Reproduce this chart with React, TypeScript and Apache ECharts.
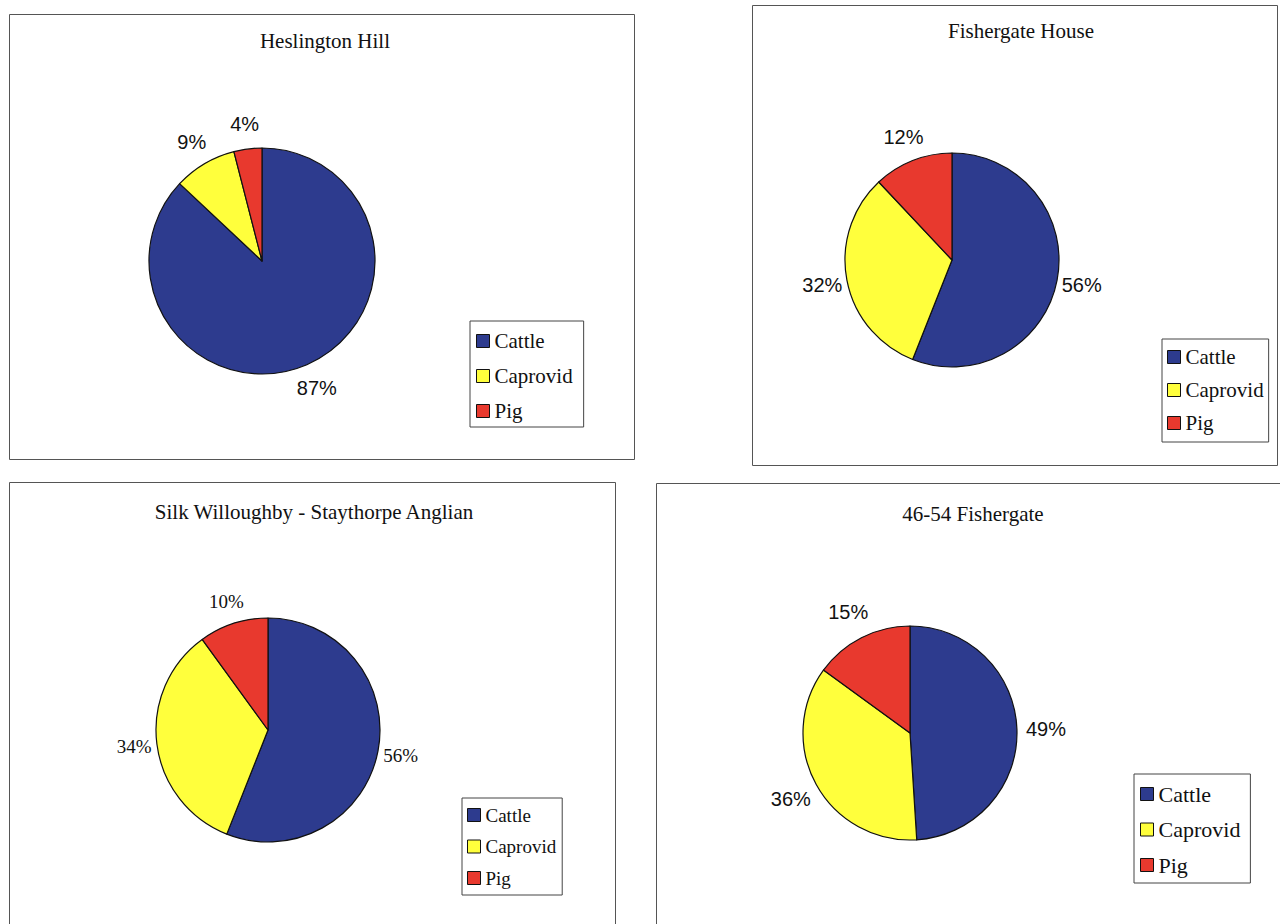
import React, { useEffect, useRef } from "react";
import * as echarts from "echarts";

const categories = ["Cattle", "Caprovid", "Pig"];
const heslingtonHill = [87, 9, 4];
const fishergateHouse = [56, 32, 12];
const silkWilloughby = [56, 34, 10];
const fishergate4654 = [49, 36, 15];
const chartTitles = [
  "Heslington Hill",
  "Fishergate House",
  "Silk Willoughby - Staythorpe Anglian",
  "46-54 Fishergate",
];
const seriesValues = [heslingtonHill, fishergateHouse, silkWilloughby, fishergate4654];

const colors = ["#2d3b8e", "#ffff3c", "#e8392e"];
const SERIF = "'Liberation Serif', 'Times New Roman', serif";
const SANS = "'Liberation Sans', Arial, sans-serif";

const panels = [
  {
    box: [9, 14, 625, 445],
    title: [325, 41],
    center: [262, 261],
    radius: 113,
    labelLen: 25,
    labelFont: SANS,
    labelSize: 20,
    legend: { left: 470, top: 321, fs: 21, gap: 12, pad: [8.5, 11, 4.5, 6] },
  },
  {
    box: [752, 5, 525, 460],
    title: [1021, 31],
    center: [952, 260],
    radius: 107,
    labelLen: 25,
    labelFont: SANS,
    labelSize: 20,
    legend: { left: 1162, top: 339, fs: 21, gap: 10, pad: [6.5, 5, 7.5, 5] },
  },
  {
    box: [9, 482, 606, 460],
    title: [314, 512],
    center: [268, 730],
    radius: 112,
    labelLen: 23,
    labelFont: SERIF,
    labelSize: 19,
    legend: { left: 462, top: 798, fs: 19, gap: 10.5, pad: [6.5, 6, 6.5, 5] },
  },
  {
    box: [656, 483, 640, 460],
    title: [973, 514],
    center: [910, 733],
    radius: 107,
    labelLen: 29,
    labelFont: SANS,
    labelSize: 20,
    legend: { left: 1134, top: 774, fs: 22, gap: 11.5, pad: [8, 10, 6, 6] },
  },
];

export default function App() {
  const ref = useRef<HTMLDivElement>(null);

  useEffect(() => {
    if (!ref.current) return;
    document.body.style.margin = "0";
    const chart = echarts.init(ref.current, null, { renderer: "svg" });

    const graphics: any[] = [];
    panels.forEach((p, i) => {
      graphics.push({
        type: "rect",
        shape: { x: p.box[0] + 0.5, y: p.box[1] + 0.5, width: p.box[2], height: p.box[3] },
        style: { fill: "none", stroke: "#555", lineWidth: 1 },
        z: 0,
      });
      graphics.push({
        type: "text",
        x: p.title[0],
        y: p.title[1],
        style: {
          text: chartTitles[i],
          font: `21px ${SERIF}`,
          fill: "#111",
          textAlign: "center",
          textVerticalAlign: "middle",
        },
      });
    });

    const series = panels.map((p, i) => ({
      type: "pie",
      name: chartTitles[i],
      center: p.center,
      radius: p.radius,
      startAngle: 90,
      clockwise: true,
      avoidLabelOverlap: false,
      data: categories.map((c, j) => ({ name: c, value: seriesValues[i][j] })),
      itemStyle: { borderColor: "#111", borderWidth: 1.2 },
      label: {
        show: true,
        position: "outside",
        formatter: "{c}%",
        color: "#111",
        fontFamily: p.labelFont,
        fontSize: p.labelSize,
        distanceToLabelLine: 0,
      },
      labelLine: { show: false, length: p.labelLen, length2: 0 },
      labelLayout: () => ({ align: "center" }),
      emphasis: { disabled: true },
    }));

    const legends = panels.map((p) => ({
      orient: "vertical",
      left: p.legend.left,
      top: p.legend.top,
      data: categories,
      icon: "rect",
      itemWidth: 13,
      itemHeight: 13,
      itemGap: p.legend.gap,
      padding: p.legend.pad,
      borderColor: "#444",
      borderWidth: 1,
      backgroundColor: "#fff",
      selectedMode: false,
      itemStyle: { borderColor: "#111", borderWidth: 1 },
      textStyle: {
        fontFamily: SERIF,
        fontSize: p.legend.fs,
        lineHeight: p.legend.fs + 2,
        color: "#111",
      },
    }));

    chart.setOption({
      animation: false,
      backgroundColor: "#ffffff",
      color: colors,
      tooltip: { show: false },
      graphic: graphics,
      legend: legends,
      series,
    });

    return () => chart.dispose();
  }, []);

  return <div ref={ref} style={{ width: 1280, height: 924, background: "#fff" }} />;
}
